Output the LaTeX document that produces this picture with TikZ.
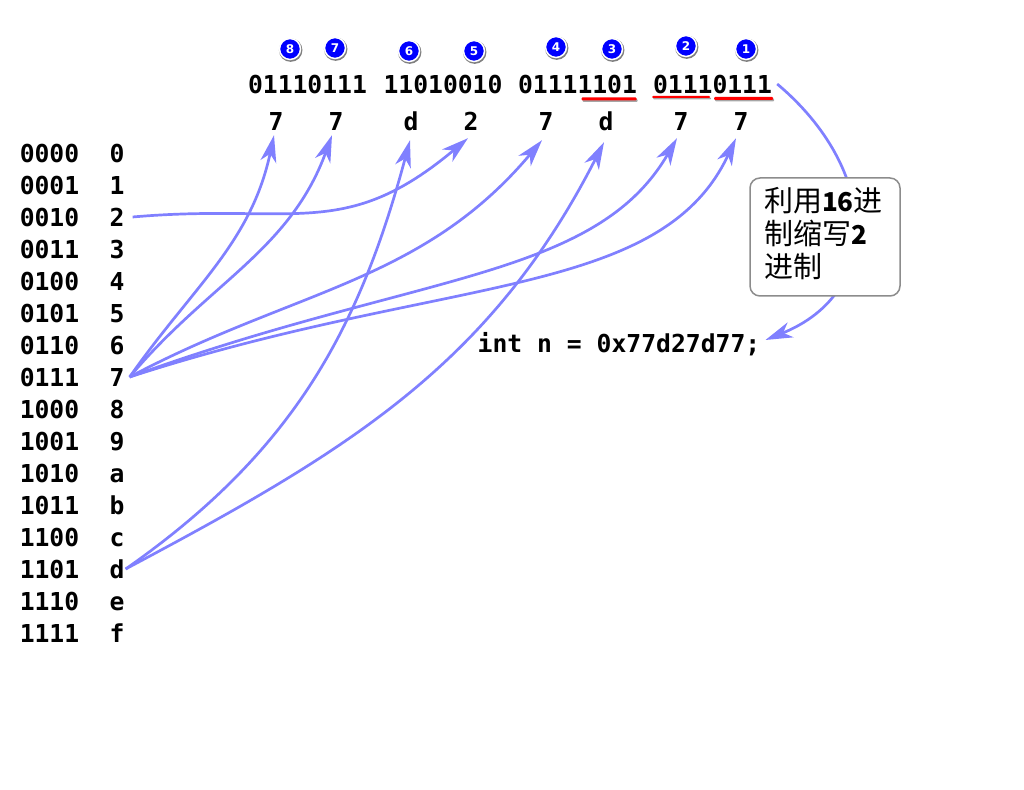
\documentclass[tikz,border=0pt]{standalone}
\usepackage{fontspec}
\setmonofont{DejaVu Sans Mono}
\newfontfamily\cjkfont{Noto Sans CJK SC}
\newfontfamily\badgefont{DejaVu Sans}
\usetikzlibrary{arrows.meta,shadows}
\definecolor{ArrowBlue}{HTML}{8080FF}
\definecolor{BoxGray}{HTML}{8C8C8C}

\begin{document}
\begin{tikzpicture}[x=1pt,y=1pt]
		\tikzstyle{codetext}=[font=\ttfamily\bfseries\fontsize{24.7}{30}\selectfont,
								  text height=19pt,text depth=0pt,inner sep=5pt]
		\tikzstyle{hexcell}=[codetext,minimum height=32pt]
		\tikzstyle{badge}=[circle,draw=white,line width=1.5pt,fill=blue,text=white,
								 minimum size=21pt,inner sep=0pt,
								 font=\badgefont\bfseries\fontsize{12}{12}\selectfont,
								 drop shadow={shadow xshift=.6pt,shadow yshift=-1pt,shadow scale=1.12,opacity=.5,fill=black}]
		\tikzstyle{redline}=[rectangle,rounded corners=1pt,fill=red,inner sep=0pt,minimum height=3pt,
								 drop shadow={shadow xshift=1pt,shadow yshift=-1.5pt,opacity=.35,fill=black}]
		\tikzstyle{notebox}=[draw=BoxGray,fill=white,line width=1.5pt,rounded corners=10pt,
								 minimum width=150pt,minimum height=118pt,text width=122pt,text depth=76pt,inner sep=0pt,
								 align=left,font=\cjkfont\fontsize{29}{33}\selectfont]
		\tikzstyle{ArrowSty}=[-{Stealth[length=27pt,width=16pt,inset=8pt]},color=ArrowBlue,line width=2.7pt]

		\useasboundingbox (0,0) rectangle (1024,789);

% Table
\foreach \bin/\hexd [count=\i from 0] in {0000/0,0001/1,0010/2,0011/3,0100/4,0101/5,0110/6,0111/7,1000/8,1001/9,1010/a,1011/b,1100/c,1101/d,1110/e,1111/f}{
	\node [codetext] (bin\hexd) at (49.5,{636-32*\i}) {\bin};
	\node [codetext] (t\hexd) at (117,{636-32*\i}) {\hexd};
}

% Bytes and digits
\node [codetext] (b4) at (307.5,705) {01110111};
\node [codetext] (b3) at (443,705) {11010010};
\node [codetext] (b2) at (577.5,705) {01111101};
\node [codetext] (b1) at (712.5,705) {01110111};
\node [codetext] (code) at (619,446) {int n = 0x77d27d77;};

\foreach \name/\posx/\txt in {h8/276/7,h7/336/7,h6/411/d,h5/471/2,h4/546/7,h3/606/d,h2/681/7,h1/741/7}{
	\node [hexcell] (\name) at (\posx,668) {\txt};
}

\foreach \num/\posx/\posy in {8/290/740,7/335/741,6/409/738,5/474/738,4/556/742,3/612/740,2/686/743,1/746/740}{
	\node [badge] (c\num) at (\posx,\posy) {\num};
}

\node [redline,minimum width=55pt] (u3) at (609,690) {};
\node [redline,minimum width=58pt,minimum height=2pt] (u2) at (681,692) {};
\node [redline,minimum width=59pt] (u1) at (743.5,690.5) {};

	\path[ArrowSty] (t7.east) edge[out=55,in=-102] ([shift={(-2,2)}]h8.south);
	\path[ArrowSty] (t7.east) edge[out=50,in=-110] ([shift={(-4,2)}]h7.south);
	\path[ArrowSty] (t7.east) edge[out=28,in=-130] ([shift={(-4,-3)}]h4.south);
	\path[ArrowSty] (t7.east) edge[out=20,in=-120,out looseness=1.3,in looseness=.7] ([shift={(-4,-1)}]h2.south);
	\path[ArrowSty] (t7.east) edge[out=18,in=-115,out looseness=1.3,in looseness=.7] ([shift={(-5,-1)}]h1.south);
	\path[ArrowSty] ([xshift=3]t2.east) edge[out=5,in=-140,looseness=1.2] ([shift={(-3,-1)}]h5.south);
	\path[ArrowSty] ([xshift=-4]td.east) edge[out=35,in=-105] ([shift={(-1,-3)}]h6.south);
	\path[ArrowSty] ([xshift=-4]td.east) edge[out=28,in=-117] ([shift={(-2,-5)}]h3.south);
	\path[ArrowSty] (b1.east) edge[out=-40,in=22,looseness=1.3] ([yshift=3]code.east);

\node [notebox] (note) at (825,552) {利用{\bfseries\fontsize{26}{33}\selectfont 16}进\\制缩写{\bfseries\fontsize{26}{33}\selectfont 2}\\进制};

\end{tikzpicture}
\end{document}
